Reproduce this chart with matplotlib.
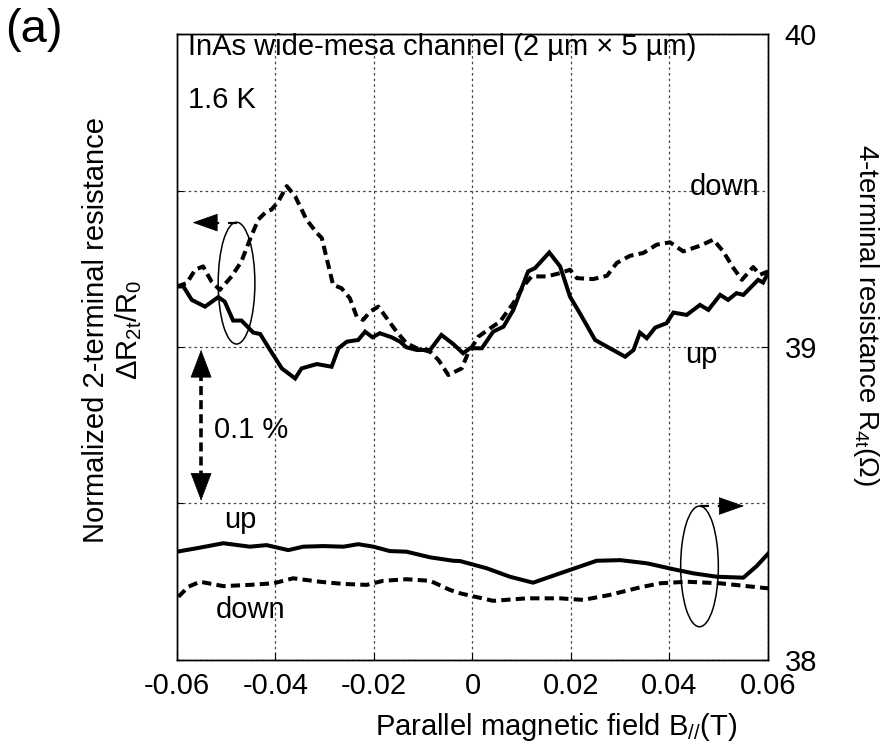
import matplotlib
matplotlib.use("Agg")
import matplotlib.pyplot as plt
from matplotlib.patches import Ellipse

plt.rcParams['font.family'] = ['Liberation Sans', 'DejaVu Sans']
plt.rcParams['mathtext.fontset'] = 'custom'
plt.rcParams['mathtext.rm'] = 'Liberation Sans'
plt.rcParams['mathtext.it'] = 'Liberation Sans:italic'
plt.rcParams['mathtext.default'] = 'rm'

# ---- data: 2-terminal normalized resistance (%), left axis ----
x_up_2t = [-0.0600, -0.0587, -0.0570, -0.0543, -0.0516, -0.0503, -0.0486, -0.0469, -0.0445, -0.0431,
           -0.0411, -0.0387, -0.0360, -0.0347, -0.0316, -0.0286, -0.0272, -0.0255, -0.0232, -0.0218,
           -0.0203, -0.0188, -0.0164, -0.0147, -0.0134, -0.0113, -0.0086, -0.0063, -0.0039, -0.0019,
           -0.0005, 0.0019, 0.0042, 0.0063, 0.0083, 0.0100, 0.0113, 0.0127, 0.0156, 0.0178,
           0.0198, 0.0218, 0.0249, 0.0279, 0.0310, 0.0327, 0.0340, 0.0354, 0.0371, 0.0394,
           0.0408, 0.0435, 0.0462, 0.0479, 0.0503, 0.0519, 0.0536, 0.0550, 0.0570, 0.0580,
           0.0590, 0.0600]
r_up_2t = [0.0387, 0.0387, 0.0301, 0.0258, 0.0319, 0.0290, 0.0169, 0.0169, 0.0092, 0.0083,
           -0.0019, -0.0137, -0.0201, -0.0137, -0.0109, -0.0126, -0.0008, 0.0034, 0.0045, 0.0098,
           0.0062, 0.0088, 0.0062, 0.0034, -0.0002, -0.0019, -0.0019, 0.0077, 0.0019, -0.0040,
           -0.0008, -0.0008, 0.0098, 0.0130, 0.0237, 0.0376, 0.0483, 0.0504, 0.0604, 0.0515,
           0.0322, 0.0216, 0.0045, -0.0008, -0.0062, -0.0019, 0.0092, 0.0056, 0.0124, 0.0152,
           0.0220, 0.0205, 0.0269, 0.0237, 0.0333, 0.0301, 0.0344, 0.0333, 0.0397, 0.0429,
           0.0412, 0.0472]

x_down_2t = [-0.0600, -0.0580, -0.0563, -0.0547, -0.0530, -0.0513, -0.0489, -0.0469, -0.0452, -0.0435,
             -0.0418, -0.0408, -0.0394, -0.0377, -0.0360, -0.0337, -0.0316, -0.0306, -0.0283, -0.0266,
             -0.0249, -0.0235, -0.0222, -0.0208, -0.0191, -0.0174, -0.0154, -0.0134, -0.0113, -0.0086,
             -0.0069, -0.0049, -0.0022, -0.0009, 0.0012, 0.0036, 0.0056, 0.0083, 0.0103, 0.0120,
             0.0151, 0.0178, 0.0198, 0.0212, 0.0245, 0.0273, 0.0293, 0.0320, 0.0347, 0.0374,
             0.0401, 0.0428, 0.0462, 0.0489, 0.0509, 0.0530, 0.0547, 0.0570, 0.0584, 0.0600]
r_down_2t = [0.0387, 0.0408, 0.0494, 0.0515, 0.0419, 0.0365, 0.0451, 0.0547, 0.0686, 0.0814,
             0.0867, 0.0878, 0.0931, 0.1028, 0.0963, 0.0814, 0.0729, 0.0697, 0.0397, 0.0376,
             0.0312, 0.0194, 0.0173, 0.0226, 0.0258, 0.0184, 0.0098, 0.0024, -0.0008, -0.0030,
             -0.0083, -0.0179, -0.0137, -0.0040, 0.0066, 0.0120, 0.0162, 0.0280, 0.0387, 0.0451,
             0.0451, 0.0472, 0.0494, 0.0440, 0.0434, 0.0455, 0.0537, 0.0583, 0.0601, 0.0654,
             0.0669, 0.0611, 0.0647, 0.0686, 0.0611, 0.0504, 0.0429, 0.0511, 0.0462, 0.0483]

# ---- data: 4-terminal resistance (Ohm), right axis ----
x_up_4t = [-0.0600, -0.0560, -0.0506, -0.0452, -0.0418, -0.0374, -0.0344, -0.0303, -0.0262, -0.0232,
           -0.0201, -0.0168, -0.0134, -0.0086, -0.0039, -0.0025, 0.0029, 0.0076, 0.0123, 0.0178,
           0.0252, 0.0300, 0.0354, 0.0408, 0.0448, 0.0496, 0.0550, 0.0577, 0.0600]
r_up_4t = [38.346, 38.357, 38.373, 38.362, 38.367, 38.351, 38.362, 38.364, 38.362, 38.370,
           38.362, 38.348, 38.346, 38.328, 38.317, 38.316, 38.293, 38.266, 38.247, 38.277,
           38.317, 38.319, 38.309, 38.290, 38.277, 38.266, 38.263, 38.300, 38.339]

x_down_4t = [-0.0597, -0.0577, -0.0553, -0.0506, -0.0452, -0.0404, -0.0364, -0.0310, -0.0262, -0.0215,
             -0.0181, -0.0134, -0.0086, -0.0046, -0.0025, 0.0042, 0.0110, 0.0178, 0.0225, 0.0279,
             0.0340, 0.0381, 0.0435, 0.0503, 0.0557, 0.0600]
r_down_4t = [38.202, 38.234, 38.250, 38.236, 38.240, 38.245, 38.261, 38.250, 38.243, 38.240,
             38.253, 38.258, 38.253, 38.224, 38.213, 38.189, 38.197, 38.197, 38.192, 38.208,
             38.232, 38.245, 38.250, 38.245, 38.236, 38.229]

x_ticks = [-0.06, -0.04, -0.02, 0, 0.02, 0.04, 0.06]
x_tick_labels = ['-0.06', '-0.04', '-0.02', '0', '0.02', '0.04', '0.06']
left_ticks = [-0.2, -0.1, 0.0, 0.1, 0.2]
right_ticks = [38, 39, 40]
right_tick_labels = ['38', '39', '40']

FS = 21
LW = 2.9
DASH = (0, (2.3, 1.3))

fig = plt.figure(figsize=(8.87, 7.56), dpi=100)
ax = fig.add_axes([0.1995, 0.1270, 0.6663, 0.8280])
ax2 = ax.twinx()

ax.set_xlim(-0.06, 0.06)
ax.set_ylim(-0.2, 0.2)
ax2.set_ylim(38, 40)

ax.set_xticks(x_ticks)
ax.set_xticklabels(x_tick_labels, fontsize=FS)
ax.set_yticks(left_ticks)
ax.set_yticklabels([])
ax2.set_yticks(right_ticks)
ax2.set_yticklabels(right_tick_labels, fontsize=FS)

ax.grid(True, linestyle=(0, (2, 2.5)), color='#444444', linewidth=0.9)
ax.tick_params(axis='x', direction='in', length=5, pad=9, top=False)
ax.tick_params(axis='y', direction='in', length=4, left=True, right=False)
ax2.tick_params(axis='y', direction='in', length=5, pad=12)
for a in (ax, ax2):
    for s in a.spines.values():
        s.set_linewidth(1.0)

# 2-terminal curves
ax.plot(x_up_2t, r_up_2t, color='k', lw=LW, solid_joinstyle='miter')
ax.plot(x_down_2t, r_down_2t, color='k', lw=LW, linestyle=DASH)

# 4-terminal curves
ax2.plot(x_up_4t, r_up_4t, color='k', lw=LW)
ax2.plot(x_down_4t, r_down_4t, color='k', lw=LW, linestyle=DASH)

# ellipses + pointer arrows
ax.add_patch(Ellipse((-0.0479, 0.0408), 0.00745, 0.0778, fill=False, ec='k', lw=1.1))
ax.plot([-0.0479, -0.0530], [0.0795, 0.0795], color='k', lw=1.6, linestyle=(0, (4, 4)))
ax.annotate('', xy=(-0.0574, 0.0795), xytext=(-0.0528, 0.0795),
            arrowprops=dict(arrowstyle='-|>,head_length=1.7,head_width=0.6', color='k', lw=0.5))

ax2.add_patch(Ellipse((0.0461, 38.299), 0.00765, 0.3856, fill=False, ec='k', lw=1.1))
ax2.plot([0.0462, 0.0513], [38.492, 38.492], color='k', lw=1.6, linestyle=(0, (4, 4)))
ax2.annotate('', xy=(0.0557, 38.492), xytext=(0.0511, 38.492),
             arrowprops=dict(arrowstyle='-|>,head_length=1.7,head_width=0.6', color='k', lw=0.5))

# 0.1 % scale arrow
xa = -0.0551
ax2.plot([xa, xa], [38.92, 38.58], color='k', lw=2.6, linestyle=(0, (2.5, 1.4)))
ax2.annotate('', xy=(xa, 39.0), xytext=(xa, 38.91),
             arrowprops=dict(arrowstyle='-|>,head_length=1.9,head_width=0.72', color='k', lw=0.5))
ax2.annotate('', xy=(xa, 38.5), xytext=(xa, 38.59),
             arrowprops=dict(arrowstyle='-|>,head_length=1.9,head_width=0.72', color='k', lw=0.5))
ax.text(0.062, 0.367, '0.1 %', transform=ax.transAxes, fontsize=FS, ha='left', va='center')

# curve labels
ax.text(0.927, 0.756, 'down', transform=ax.transAxes, fontsize=FS, ha='center', va='center')
ax.text(0.888, 0.487, 'up', transform=ax.transAxes, fontsize=FS, ha='center', va='center')
ax.text(0.107, 0.224, 'up', transform=ax.transAxes, fontsize=FS, ha='center', va='center')
ax.text(0.124, 0.080, 'down', transform=ax.transAxes, fontsize=FS, ha='center', va='center')

# header text
ax.text(0.0186, 0.979, 'InAs wide-mesa channel (2 µm × 5 µm)', transform=ax.transAxes,
        fontsize=FS, ha='left', va='center')
ax.text(0.0186, 0.8946, '1.6 K', transform=ax.transAxes, fontsize=FS, ha='left', va='center')

# axis labels
fig.text(556 / 887, 1 - 727 / 756, r'Parallel magnetic field B$_{//}$(T)', fontsize=FS,
         ha='center', va='center')
fig.text(113 / 887, 1 - 330 / 756, 'Normalized 2-terminal resistance\n' + r'$\Delta$R$_{2t}$/R$_0$',
         fontsize=FS, rotation=90, ha='center', va='center', multialignment='center',
         linespacing=1.15)
fig.text(866 / 887, 1 - 315 / 756, r'4-terminal resistance R$_{4t}$(Ω)', fontsize=20,
         rotation=-90, ha='center', va='center')
fig.text(5 / 887, 1 - 30 / 756, '(a)', fontsize=34, ha='left', va='center')

fig.savefig('out.png', dpi=100)
